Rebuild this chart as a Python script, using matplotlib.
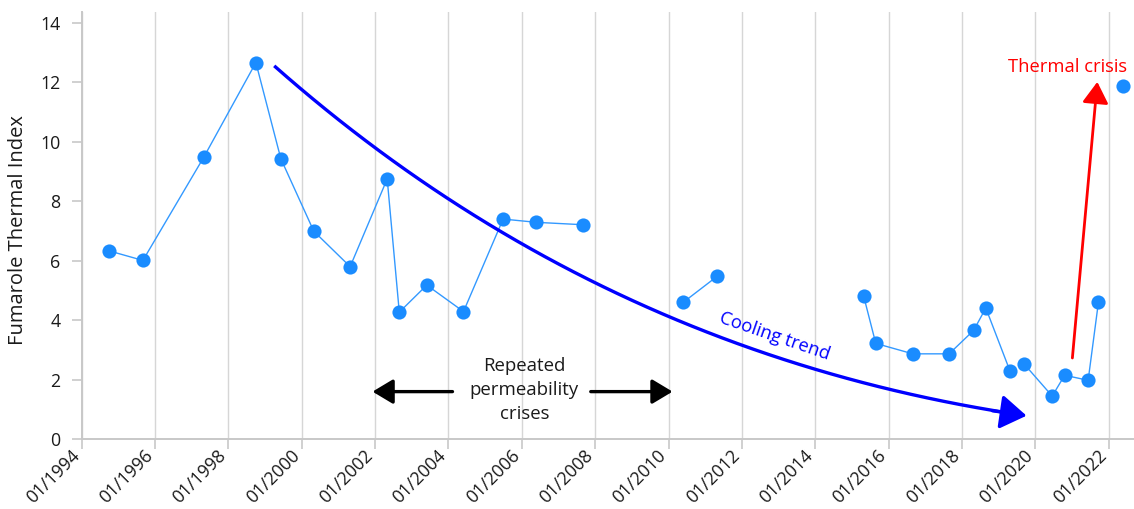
import matplotlib
matplotlib.use("Agg")
import matplotlib.pyplot as plt
import numpy as np
from matplotlib.transforms import ScaledTranslation

plt.rcParams['font.family'] = ['Open Sans', 'DejaVu Sans']

# ---- data (decimal years) ----
years = [1994.75, 1995.67, 1997.33, 1998.75, 1999.43, 2000.33, 2001.32, 2002.33,
         2002.66, 2003.41, 2004.41, 2005.49, 2006.40, 2007.66,
         2010.40, 2011.33,
         2015.32, 2015.65, 2016.66, 2017.65, 2018.32, 2018.65, 2019.31,
         2019.70, 2020.46, 2020.80, 2021.44, 2021.72,
         2022.40]
index = [6.33, 6.01, 9.48, 12.66, 9.43, 6.99, 5.80, 8.75,
         4.27, 5.18, 4.29, 7.40, 7.29, 7.21,
         4.60, 5.48,
         4.81, 3.22, 2.87, 2.87, 3.66, 4.41, 2.29,
         2.52, 1.45, 2.15, 1.98, 4.60,
         11.88]
segment = [0] * 14 + [1] * 2 + [2] * 7 + [3] * 5 + [4]

tick_years = list(range(1994, 2023, 2))
tick_labels = ["01/%d" % y for y in tick_years]
y_ticks = [0, 2, 4, 6, 8, 10, 12, 14]

# ---- figure ----
fig = plt.figure(figsize=(11.34, 5.09), dpi=100)
ax = fig.add_axes([0.072, 0.1371, 0.928, 0.8399])

point_color = '#1a8cff'
for s in sorted(set(segment)):
    xs = [x for x, g in zip(years, segment) if g == s]
    ys = [v for v, g in zip(index, segment) if g == s]
    ax.plot(xs, ys, color='#3399ff', lw=1.0, zorder=3)
    ax.plot(xs, ys, ls='none', marker='o', ms=10.2, color=point_color,
            mec='none', zorder=4)

ax.set_xlim(1994, 2022.69)
ax.set_ylim(0, 14.37)
ax.set_xticks(tick_years)
ax.set_xticklabels(tick_labels, rotation=45, ha='right', va='center',
                   rotation_mode='anchor')
ax.set_yticks(y_ticks)
ax.set_yticklabels([str(v) for v in y_ticks])

gray = '#c8c8c8'
ax.grid(axis='x', color='#d6d6d6', lw=1.0)
ax.set_axisbelow(True)
for side in ['top', 'right']:
    ax.spines[side].set_visible(False)
for side in ['left', 'bottom']:
    ax.spines[side].set_color(gray)
    ax.spines[side].set_linewidth(1.4)

ax.tick_params(axis='x', length=7.2, width=1.2, color=gray, labelsize=12.8,
               pad=2.5, labelcolor='#1a1a1a')
ax.tick_params(axis='y', length=7.2, width=1.2, color=gray, labelsize=12.8,
               pad=8, labelcolor='#1a1a1a')
offset = ScaledTranslation(-5 / 100, 0, fig.dpi_scale_trans)
for lab in ax.get_xticklabels():
    lab.set_transform(lab.get_transform() + offset)

ax.set_ylabel('Fumarole Thermal Index', fontsize=14.5, color='#1a1a1a', va='center')
ax.yaxis.set_label_coords(-0.0602, 0.49)

# ---- annotations ----
# cooling trend curve (quadratic Bezier guide: start, control, end)
p0 = np.array([1999.25, 12.55])
p1 = np.array([2008.13, 2.88])
p2 = np.array([2019.76, 0.79])
t = np.linspace(0, 0.975, 200)[:, None]
curve = (1 - t) ** 2 * p0 + 2 * (1 - t) * t * p1 + t ** 2 * p2
ax.plot(curve[:, 0], curve[:, 1], color='#0000ff', lw=2.4,
        solid_capstyle='butt', zorder=5)
ax.annotate('', xy=tuple(p2), xytext=tuple(p2 - 0.08 * (p2 - p1)),
            arrowprops=dict(arrowstyle='-|>,head_length=16,head_width=10.5',
                            lw=2.4, color='#0000ff', shrinkA=0, shrinkB=0,
                            mutation_scale=1), zorder=5)
ax.text(2012.90, 3.47, 'Cooling trend', color='#0000ff', fontsize=13.2,
        rotation=-19, ha='center', va='center', rotation_mode='anchor', zorder=6)

# repeated permeability crises
ax.text(2006.07, 1.66, 'Repeated\npermeability\ncrises', color='#1a1a1a',
        fontsize=13.4, ha='center', va='center', linespacing=1.45, zorder=6)
for tail, tip in [((2004.11, 1.60), (2001.93, 1.60)), ((2007.88, 1.60), (2010.11, 1.60))]:
    ax.annotate('', xy=tip, xytext=tail,
                arrowprops=dict(arrowstyle='-|>,head_length=12.5,head_width=7.5',
                                lw=2.4, color='black', shrinkA=0, shrinkB=0,
                                mutation_scale=1), zorder=5)

# thermal crisis
ax.annotate('', xy=(2021.69, 12.01), xytext=(2021.01, 2.73),
            arrowprops=dict(arrowstyle='-|>,head_length=13,head_width=8',
                            lw=2.0, color='#ff0000', shrinkA=0, shrinkB=0,
                            mutation_scale=1), zorder=5)
ax.text(2020.89, 12.34, 'Thermal crisis', color='#ff0000', fontsize=13.2,
        ha='center', va='baseline', zorder=6)

fig.savefig('out.png', dpi=100)
